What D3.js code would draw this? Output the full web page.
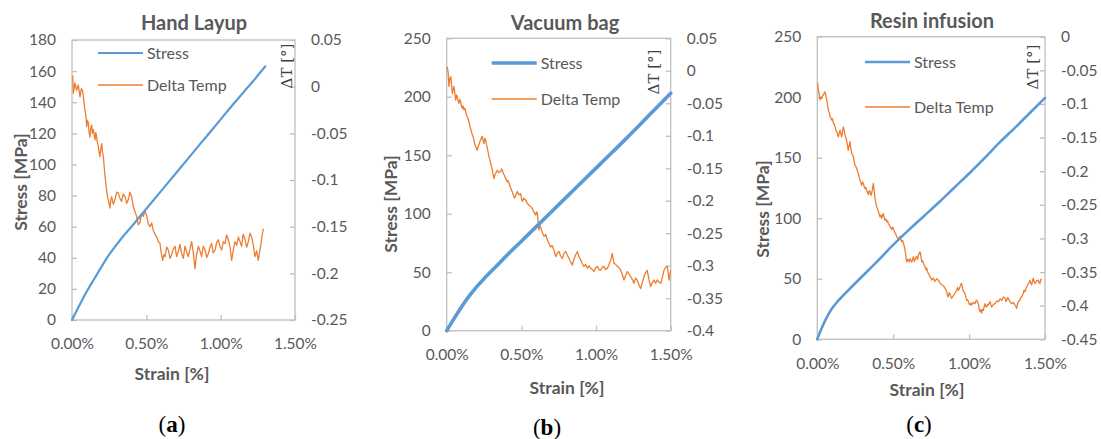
<!DOCTYPE html>
<html><head><meta charset="utf-8">
<script src="https://cdn.jsdelivr.net/npm/d3@7"></script>
<style>
html,body{margin:0;padding:0;background:#fff;}
svg text{font-family:Lato,"Open Sans",sans-serif;}
</style></head>
<body><svg id="chart" width="1101" height="439"></svg>
<script>
// ---------- DATA ----------
const panelTitles = ["Hand Layup", "Vacuum bag", "Resin infusion"];
const panelLetters = ["a", "b", "c"];
const seriesNames = ["Stress", "Delta Temp"];
const strainTicks = [0, 0.5, 1.0, 1.5];

const handStressTicks = [0,20,40,60,80,100,120,140,160,180];
const handTempTicks = [0.05,0,-0.05,-0.1,-0.15,-0.2,-0.25];
const vacStressTicks = [0,50,100,150,200,250];
const vacTempTicks = [0.05,0,-0.05,-0.1,-0.15,-0.2,-0.25,-0.3,-0.35,-0.4];
const resinStressTicks = [0,50,100,150,200,250];
const resinTempTicks = [0,-0.05,-0.1,-0.15,-0.2,-0.25,-0.3,-0.35,-0.4,-0.45];

// [strain %, stress MPa]
const handStress = [[0,0],[0.05,9.5],[0.1,18.5],[0.15,26.5],[0.2,34.5],[0.25,42],[0.3,48.5],[0.35,54.5],[0.4,60],[0.5,71.5],[0.6,83],[0.7,94.5],[0.8,106],[0.9,117.5],[1.0,129],[1.1,140.5],[1.2,151.5],[1.3,163]];
const vacStress = [[0,0],[0.05,10.5],[0.1,20.5],[0.15,29.5],[0.2,37.5],[0.25,44.5],[0.3,51],[0.35,57.5],[0.4,64],[0.5,76.5],[0.6,89],[0.7,101.5],[0.8,114],[0.9,126.5],[1.0,139],[1.1,151.5],[1.2,164],[1.3,177],[1.4,190],[1.5,203]];
const resinStress = [[0,0],[0.025,8],[0.05,15],[0.075,21],[0.1,26],[0.125,30],[0.15,33.5],[0.2,40],[0.3,52.5],[0.4,65],[0.5,78],[0.6,90],[0.7,101.5],[0.8,113],[0.9,125],[1.0,137],[1.1,149.5],[1.2,162.5],[1.3,174.5],[1.4,187],[1.5,199.5]];

// [strain %, delta T]
const handTemp = [[0.005,0.012],[0.009,-0.007],[0.02,0.004],[0.031,-0.004],[0.042,0.002],[0.054,-0.011],[0.063,-0.002],[0.072,-0.005],[0.08,-0.016],[0.087,-0.025],[0.093,-0.031],[0.099,-0.043],[0.104,-0.036],[0.110,-0.039],[0.115,-0.049],[0.121,-0.054],[0.126,-0.045],[0.132,-0.041],[0.138,-0.05],[0.144,-0.046],[0.15,-0.053],[0.155,-0.057],[0.16,-0.049],[0.166,-0.054],[0.171,-0.06],[0.177,-0.064],[0.182,-0.07],[0.188,-0.075],[0.194,-0.066],[0.200,-0.061],[0.205,-0.07],[0.211,-0.075],[0.216,-0.085],[0.222,-0.096],[0.228,-0.104],[0.233,-0.111],[0.238,-0.117],[0.244,-0.121],[0.25,-0.126],[0.256,-0.130],[0.261,-0.121],[0.267,-0.118],[0.278,-0.126],[0.289,-0.121],[0.30,-0.113],[0.312,-0.114],[0.323,-0.12],[0.334,-0.123],[0.345,-0.115],[0.357,-0.118],[0.368,-0.125],[0.379,-0.121],[0.39,-0.113],[0.401,-0.118],[0.413,-0.129],[0.424,-0.134],[0.435,-0.139],[0.446,-0.148],[0.457,-0.146],[0.468,-0.136],[0.480,-0.139],[0.491,-0.133],[0.502,-0.138],[0.513,-0.147],[0.525,-0.150],[0.536,-0.146],[0.547,-0.154],[0.558,-0.158],[0.570,-0.161],[0.581,-0.166],[0.592,-0.168],[0.60,-0.178],[0.610,-0.186],[0.618,-0.18],[0.626,-0.182],[0.637,-0.172],[0.648,-0.175],[0.659,-0.184],[0.670,-0.180],[0.681,-0.174],[0.693,-0.171],[0.704,-0.182],[0.715,-0.177],[0.726,-0.169],[0.738,-0.179],[0.749,-0.184],[0.760,-0.171],[0.771,-0.177],[0.782,-0.182],[0.793,-0.174],[0.805,-0.166],[0.816,-0.178],[0.827,-0.195],[0.838,-0.18],[0.850,-0.171],[0.861,-0.176],[0.872,-0.182],[0.883,-0.171],[0.895,-0.175],[0.906,-0.183],[0.917,-0.179],[0.928,-0.172],[0.939,-0.168],[0.95,-0.178],[0.962,-0.175],[0.973,-0.167],[0.984,-0.164],[0.995,-0.171],[1.007,-0.175],[1.018,-0.166],[1.029,-0.168],[1.04,-0.159],[1.052,-0.164],[1.063,-0.172],[1.074,-0.186],[1.085,-0.175],[1.096,-0.166],[1.108,-0.17],[1.119,-0.161],[1.13,-0.166],[1.141,-0.171],[1.152,-0.158],[1.164,-0.164],[1.175,-0.172],[1.186,-0.166],[1.197,-0.157],[1.208,-0.161],[1.22,-0.17],[1.231,-0.182],[1.242,-0.176],[1.253,-0.186],[1.261,-0.178],[1.269,-0.171],[1.278,-0.16],[1.287,-0.152]];

const vacTemp = [[0.004,0.006],[0.01,-0.004],[0.015,-0.024],[0.021,-0.012],[0.027,-0.009],[0.032,-0.02],[0.038,-0.035],[0.044,-0.028],[0.049,-0.024],[0.055,-0.036],[0.060,-0.045],[0.066,-0.037],[0.071,-0.040],[0.077,-0.047],[0.082,-0.050],[0.088,-0.044],[0.094,-0.048],[0.099,-0.055],[0.105,-0.058],[0.11,-0.054],[0.116,-0.060],[0.122,-0.058],[0.127,-0.063],[0.132,-0.068],[0.138,-0.071],[0.144,-0.074],[0.149,-0.078],[0.155,-0.085],[0.160,-0.089],[0.166,-0.094],[0.172,-0.099],[0.177,-0.102],[0.183,-0.107],[0.188,-0.113],[0.194,-0.117],[0.2,-0.12],[0.205,-0.122],[0.21,-0.116],[0.216,-0.114],[0.222,-0.109],[0.227,-0.107],[0.233,-0.103],[0.239,-0.101],[0.244,-0.108],[0.250,-0.112],[0.255,-0.104],[0.261,-0.107],[0.266,-0.113],[0.272,-0.119],[0.278,-0.126],[0.283,-0.132],[0.289,-0.137],[0.294,-0.142],[0.3,-0.148],[0.306,-0.153],[0.311,-0.16],[0.317,-0.166],[0.322,-0.161],[0.328,-0.158],[0.334,-0.155],[0.339,-0.153],[0.35,-0.157],[0.361,-0.155],[0.367,-0.151],[0.373,-0.153],[0.378,-0.158],[0.384,-0.160],[0.395,-0.166],[0.406,-0.171],[0.411,-0.169],[0.417,-0.173],[0.428,-0.18],[0.439,-0.186],[0.447,-0.192],[0.455,-0.196],[0.464,-0.19],[0.473,-0.186],[0.484,-0.191],[0.495,-0.189],[0.50,-0.195],[0.506,-0.201],[0.517,-0.196],[0.529,-0.199],[0.54,-0.204],[0.551,-0.207],[0.562,-0.209],[0.573,-0.212],[0.585,-0.218],[0.596,-0.222],[0.601,-0.217],[0.607,-0.219],[0.612,-0.232],[0.618,-0.245],[0.623,-0.238],[0.629,-0.240],[0.64,-0.249],[0.652,-0.255],[0.663,-0.252],[0.674,-0.260],[0.685,-0.266],[0.696,-0.271],[0.707,-0.269],[0.718,-0.276],[0.724,-0.281],[0.730,-0.286],[0.741,-0.28],[0.752,-0.278],[0.763,-0.285],[0.774,-0.289],[0.785,-0.281],[0.797,-0.278],[0.808,-0.284],[0.819,-0.289],[0.83,-0.294],[0.841,-0.299],[0.852,-0.29],[0.864,-0.283],[0.875,-0.278],[0.886,-0.286],[0.897,-0.291],[0.908,-0.297],[0.919,-0.301],[0.93,-0.298],[0.942,-0.304],[0.953,-0.3],[0.964,-0.304],[0.975,-0.306],[0.986,-0.309],[0.997,-0.303],[1.009,-0.301],[1.02,-0.306],[1.031,-0.307],[1.042,-0.302],[1.053,-0.301],[1.064,-0.306],[1.076,-0.304],[1.087,-0.298],[1.098,-0.291],[1.104,-0.286],[1.109,-0.281],[1.115,-0.29],[1.120,-0.296],[1.131,-0.298],[1.143,-0.301],[1.154,-0.303],[1.165,-0.307],[1.176,-0.314],[1.187,-0.322],[1.198,-0.315],[1.210,-0.309],[1.221,-0.313],[1.232,-0.317],[1.243,-0.321],[1.254,-0.327],[1.265,-0.319],[1.276,-0.322],[1.288,-0.33],[1.299,-0.335],[1.31,-0.326],[1.321,-0.317],[1.332,-0.311],[1.343,-0.307],[1.354,-0.321],[1.366,-0.332],[1.377,-0.326],[1.388,-0.322],[1.399,-0.327],[1.410,-0.322],[1.421,-0.325],[1.433,-0.327],[1.444,-0.318],[1.455,-0.307],[1.466,-0.303],[1.477,-0.301],[1.483,-0.31],[1.489,-0.322],[1.5,-0.307]];

const resinTemp = [[0.002,-0.069],[0.006,-0.078],[0.011,-0.084],[0.018,-0.094],[0.023,-0.09],[0.029,-0.092],[0.035,-0.088],[0.040,-0.087],[0.046,-0.083],[0.051,-0.082],[0.057,-0.088],[0.062,-0.094],[0.068,-0.103],[0.073,-0.109],[0.079,-0.113],[0.084,-0.119],[0.09,-0.121],[0.095,-0.124],[0.1,-0.122],[0.106,-0.129],[0.112,-0.13],[0.117,-0.134],[0.122,-0.139],[0.128,-0.141],[0.134,-0.145],[0.139,-0.149],[0.145,-0.143],[0.150,-0.139],[0.156,-0.145],[0.161,-0.149],[0.167,-0.14],[0.172,-0.134],[0.177,-0.139],[0.182,-0.146],[0.188,-0.15],[0.193,-0.154],[0.199,-0.162],[0.204,-0.169],[0.21,-0.162],[0.215,-0.156],[0.22,-0.165],[0.226,-0.173],[0.232,-0.175],[0.237,-0.178],[0.243,-0.185],[0.248,-0.191],[0.254,-0.193],[0.259,-0.196],[0.265,-0.2],[0.270,-0.203],[0.276,-0.209],[0.281,-0.213],[0.287,-0.217],[0.292,-0.221],[0.298,-0.216],[0.303,-0.218],[0.309,-0.223],[0.314,-0.226],[0.32,-0.224],[0.325,-0.228],[0.331,-0.232],[0.336,-0.235],[0.342,-0.229],[0.347,-0.230],[0.353,-0.236],[0.358,-0.233],[0.364,-0.226],[0.369,-0.218],[0.375,-0.229],[0.380,-0.240],[0.386,-0.247],[0.391,-0.253],[0.397,-0.256],[0.402,-0.260],[0.408,-0.264],[0.413,-0.268],[0.419,-0.265],[0.424,-0.270],[0.43,-0.266],[0.435,-0.263],[0.441,-0.269],[0.446,-0.273],[0.452,-0.271],[0.457,-0.275],[0.463,-0.274],[0.468,-0.278],[0.474,-0.28],[0.479,-0.283],[0.485,-0.284],[0.490,-0.287],[0.496,-0.283],[0.501,-0.285],[0.507,-0.289],[0.512,-0.292],[0.518,-0.294],[0.523,-0.297],[0.529,-0.3],[0.534,-0.302],[0.54,-0.299],[0.545,-0.297],[0.551,-0.302],[0.556,-0.305],[0.562,-0.303],[0.567,-0.307],[0.573,-0.312],[0.578,-0.317],[0.584,-0.327],[0.589,-0.335],[0.595,-0.331],[0.600,-0.332],[0.606,-0.335],[0.611,-0.330],[0.617,-0.333],[0.622,-0.335],[0.628,-0.331],[0.633,-0.327],[0.639,-0.334],[0.644,-0.332],[0.65,-0.328],[0.655,-0.327],[0.661,-0.331],[0.666,-0.325],[0.672,-0.322],[0.677,-0.320],[0.683,-0.327],[0.688,-0.335],[0.694,-0.333],[0.699,-0.337],[0.705,-0.34],[0.710,-0.342],[0.716,-0.347],[0.721,-0.344],[0.726,-0.349],[0.731,-0.352],[0.737,-0.354],[0.742,-0.357],[0.748,-0.358],[0.753,-0.362],[0.764,-0.359],[0.775,-0.364],[0.786,-0.36],[0.797,-0.362],[0.808,-0.366],[0.819,-0.369],[0.83,-0.37],[0.841,-0.374],[0.846,-0.376],[0.852,-0.379],[0.857,-0.384],[0.863,-0.387],[0.868,-0.381],[0.874,-0.382],[0.88,-0.387],[0.885,-0.389],[0.896,-0.385],[0.907,-0.382],[0.913,-0.379],[0.918,-0.377],[0.924,-0.373],[0.929,-0.377],[0.935,-0.375],[0.940,-0.372],[0.946,-0.368],[0.951,-0.367],[0.957,-0.374],[0.962,-0.379],[0.968,-0.38],[0.973,-0.382],[0.979,-0.388],[0.984,-0.392],[0.99,-0.391],[0.995,-0.394],[1.0,-0.397],[1.006,-0.399],[1.012,-0.396],[1.017,-0.399],[1.028,-0.395],[1.039,-0.397],[1.045,-0.393],[1.050,-0.392],[1.056,-0.395],[1.061,-0.397],[1.066,-0.404],[1.072,-0.409],[1.077,-0.406],[1.083,-0.411],[1.088,-0.405],[1.094,-0.407],[1.1,-0.401],[1.105,-0.397],[1.11,-0.401],[1.116,-0.402],[1.122,-0.398],[1.127,-0.399],[1.133,-0.396],[1.138,-0.394],[1.144,-0.399],[1.149,-0.402],[1.16,-0.398],[1.171,-0.397],[1.182,-0.393],[1.193,-0.394],[1.204,-0.39],[1.215,-0.392],[1.226,-0.387],[1.237,-0.389],[1.243,-0.394],[1.248,-0.392],[1.253,-0.388],[1.258,-0.389],[1.269,-0.394],[1.280,-0.397],[1.291,-0.395],[1.302,-0.399],[1.308,-0.401],[1.313,-0.404],[1.318,-0.398],[1.324,-0.394],[1.33,-0.393],[1.335,-0.392],[1.34,-0.388],[1.346,-0.387],[1.352,-0.384],[1.357,-0.382],[1.362,-0.377],[1.368,-0.379],[1.374,-0.375],[1.379,-0.372],[1.385,-0.37],[1.390,-0.367],[1.396,-0.365],[1.401,-0.362],[1.406,-0.366],[1.412,-0.369],[1.418,-0.363],[1.423,-0.359],[1.428,-0.364],[1.434,-0.367],[1.445,-0.363],[1.456,-0.362],[1.461,-0.366],[1.467,-0.367],[1.472,-0.361],[1.478,-0.362]];

// ---------- LAYOUT ----------
const panels = [
  {stress: handStress, temp: handTemp, sTicks: handStressTicks, tTicks: handTempTicks,
   box: {l: 72, r: 295, t: 40, b: 320}, stressW: 2.2,
   titleX: 194, titleY: 23, legX: 98, legY1: 53, legY2: 85,
   dtX: 287, dtY: 66, ylabX: 21, ylabY: 182, xlabX: 172, xlabY: 374, letX: 172, letY: 424},
  {stress: vacStress, temp: vacTemp, sTicks: vacStressTicks, tTicks: vacTempTicks,
   box: {l: 446.7, r: 670.7, t: 38.3, b: 330.7}, stressW: 3.6,
   titleX: 565, titleY: 23, legX: 491.7, legY1: 63, legY2: 99,
   dtX: 654, dtY: 72, ylabX: 391, ylabY: 204, xlabX: 567, xlabY: 388, letX: 547, letY: 427},
  {stress: resinStress, temp: resinTemp, sTicks: resinStressTicks, tTicks: resinTempTicks,
   box: {l: 817.3, r: 1045, t: 36.7, b: 339.3}, stressW: 2.6,
   titleX: 932, titleY: 21, legX: 865, legY1: 62, legY2: 107,
   dtX: 1033, dtY: 67, ylabX: 763, ylabY: 209, xlabX: 927, xlabY: 390, letX: 919, letY: 424}
];

const BLUE = "#5B9BD5", ORANGE = "#ED7D31", GRID = "#BFBFBF", TXT = "#595959";
const svg = d3.select("#chart");

panels.forEach((p, i) => {
  const B = p.box;
  const x = d3.scaleLinear().domain([0, 1.5]).range([B.l, B.r]);
  const yS = d3.scaleLinear().domain(d3.extent(p.sTicks)).range([B.b, B.t]);
  const yT = d3.scaleLinear().domain(d3.extent(p.tTicks)).range([B.b, B.t]);
  const g = svg.append("g");

  g.append("rect").attr("x", B.l).attr("y", B.t).attr("width", B.r - B.l).attr("height", B.b - B.t)
    .attr("fill", "none").attr("stroke", GRID).attr("stroke-width", 1.3);

  const styleAxis = (sel) => {
    sel.select(".domain").remove();
    sel.selectAll(".tick line").attr("stroke", GRID).attr("stroke-width", 1.3);
    sel.selectAll(".tick text").attr("fill", TXT).style("font-size", "15.5px").style("font-family", "Lato, sans-serif");
  };

  g.append("g").attr("transform", `translate(${B.l},0)`)
    .call(d3.axisLeft(yS).tickValues(p.sTicks).tickSize(-5).tickPadding(16).tickFormat(d3.format("d")))
    .call(styleAxis);
  g.append("g").attr("transform", `translate(${B.r},0)`)
    .call(d3.axisRight(yT).tickValues(p.tTicks).tickSize(-5).tickPadding(16).tickFormat(v => String(+v.toFixed(2))))
    .call(styleAxis);
  g.append("g").attr("transform", `translate(0,${B.b})`)
    .call(d3.axisBottom(x).tickValues(strainTicks).tickSize(-5).tickPadding(17).tickFormat(v => d3.format(".2f")(v) + "%"))
    .call(styleAxis)
    .selectAll(".tick text").attr("dy", "0.35em").attr("y", 24);

  const lineT = d3.line().x(d => x(d[0])).y(d => yT(d[1]));
  g.append("path").datum(p.temp).attr("d", lineT).attr("fill", "none")
    .attr("stroke", ORANGE).attr("stroke-width", 1.3).attr("stroke-linejoin", "round");
  g.append("path").datum(p.stress).attr("d", d3.line().curve(d3.curveMonotoneX).x(d => x(d[0])).y(d => yS(d[1])))
    .attr("fill", "none").attr("stroke", BLUE).attr("stroke-width", p.stressW).attr("stroke-linecap", "round");

  [[p.legY1, BLUE, p.stressW, seriesNames[0]], [p.legY2, ORANGE, 1.3, seriesNames[1]]].forEach(([ly, c, w, name]) => {
    g.append("line").attr("x1", p.legX).attr("x2", p.legX + 45).attr("y1", ly).attr("y2", ly)
      .attr("stroke", c).attr("stroke-width", w);
    g.append("text").attr("x", p.legX + 49).attr("y", ly).attr("dy", "0.35em")
      .attr("fill", TXT).style("font-size", "16px").text(name);
  });

  g.append("text").attr("x", p.titleX).attr("y", p.titleY).attr("dy", "0.35em").attr("text-anchor", "middle")
    .attr("fill", TXT).style("font-size", "20px").style("font-weight", "bold").text(panelTitles[i]);
  g.append("text").attr("transform", `translate(${p.ylabX},${p.ylabY}) rotate(-90)`).attr("dy", "0.35em")
    .attr("text-anchor", "middle").attr("fill", TXT).style("font-size", "17.5px").style("font-weight", "bold")
    .text("Stress [MPa]");
  g.append("text").attr("x", p.xlabX).attr("y", p.xlabY).attr("dy", "0.35em").attr("text-anchor", "middle")
    .attr("fill", TXT).style("font-size", "17.5px").style("font-weight", "bold").text("Strain [%]");
  g.append("text").attr("transform", `translate(${p.dtX},${p.dtY}) rotate(-90)`).attr("dy", "0.35em")
    .attr("text-anchor", "middle").attr("fill", "#404040").style("font-size", "15px")
    .style("font-family", "'DejaVu Serif', 'Liberation Serif', serif").text("ΔT [°]");

  const lt = g.append("text").attr("x", p.letX).attr("y", p.letY).attr("dy", "0.35em").attr("text-anchor", "middle")
    .attr("fill", "#000").style("font-size", "23px").style("font-family", "'Liberation Serif', 'DejaVu Serif', serif");
  lt.append("tspan").text("(");
  lt.append("tspan").style("font-weight", "bold").text(panelLetters[i]);
  lt.append("tspan").text(")");
});
</script></body></html>
